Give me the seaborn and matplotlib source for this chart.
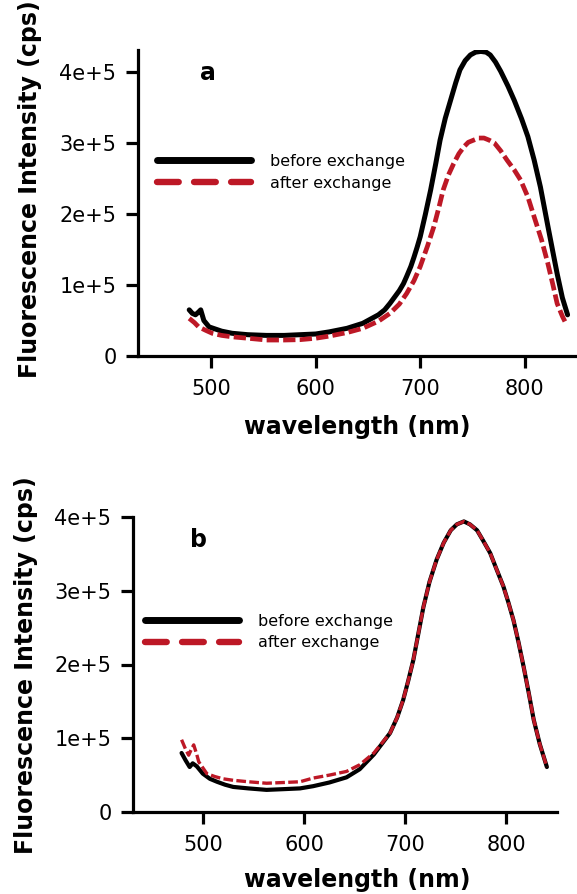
import numpy as np
import pandas as pd
import matplotlib
matplotlib.use("Agg")
import matplotlib.pyplot as plt
from matplotlib.lines import Line2D
import seaborn as sns

# Spectra (wavelength in nm, intensity in cps)
# panel a
wl_a_before = [479, 482, 485, 488, 490, 493, 498, 510, 520, 535, 553, 570, 585, 600,
               613, 630, 645, 660, 666, 671, 676, 680, 684, 687, 691, 694, 697, 700,
               705, 710, 715, 719, 724, 729, 734, 738, 743, 748, 753, 758, 763, 767,
               772, 777, 784, 790, 797, 803, 809, 815, 822, 827, 831, 836, 841]
int_a_before = [65000, 60000, 58000, 62000, 65000, 50000, 41000, 35000, 32000, 30000,
                29000, 29000, 30000, 31000, 34000, 39000, 46000, 58000, 65000, 74000,
                84000, 92000, 102000, 112000, 126000, 139000, 153000, 168000, 200000,
                234000, 272000, 304000, 335000, 360000, 385000, 403000, 416000, 424000,
                428000, 429000, 428000, 424000, 414000, 401000, 380000, 360000, 334000,
                309000, 276000, 238000, 184000, 146000, 116000, 82000, 58000]
wl_a_after = [479, 484, 488, 495, 501, 510, 520, 535, 553, 570, 585, 600, 613, 630, 645,
              660, 671, 680, 687, 694, 700, 707, 713, 718, 722, 727, 732, 737, 742, 746,
              751, 756, 761, 766, 771, 777, 783, 790, 796, 803, 809, 816, 822, 827, 831,
              836, 840]
int_a_after = [53000, 47000, 41000, 36000, 32000, 29000, 27000, 25000, 22500, 22500,
               23000, 25000, 28000, 33000, 39000, 49000, 60000, 73000, 88000, 106000,
               126000, 155000, 182000, 210000, 234000, 255000, 271000, 285000, 295000,
               301000, 304000, 307000, 307000, 304000, 300000, 289000, 276000, 262000,
               248000, 224000, 196000, 164000, 131000, 100000, 74000, 56000, 44000]

# panel b
wl_b_before = [479, 483, 487, 490, 494, 500, 507, 514, 522, 530, 545, 563, 580, 596, 609,
               625, 642, 655, 669, 685, 692, 698, 703, 708, 713, 718, 724, 731, 738, 745,
               751, 758, 764, 771, 777, 784, 790, 797, 802, 807, 812, 817, 822, 827, 833,
               840]
int_b_before = [80000, 70000, 61000, 66000, 62000, 52000, 45000, 41000, 37000, 34000,
                32000, 30000, 31000, 32000, 35000, 40000, 47000, 58000, 78000, 107000,
                128000, 152000, 178000, 206000, 242000, 278000, 312000, 342000, 365000,
                382000, 390000, 394000, 390000, 382000, 368000, 351000, 330000, 306000,
                284000, 260000, 230000, 197000, 162000, 125000, 92000, 61000]
wl_b_after = [479, 483, 486, 489, 491, 494, 496, 500, 504, 512, 520, 530, 545, 563, 580,
              596, 609, 625, 642, 655, 669, 685, 692, 698, 703, 708, 713, 718, 724, 731,
              738, 745, 751, 758, 764, 771, 777, 784, 790, 797, 802, 807, 812, 817, 822,
              827, 833, 840]
int_b_after = [98000, 85000, 77000, 86000, 91000, 78000, 68000, 60000, 52000, 48000,
               45000, 43000, 41000, 39000, 40000, 41000, 46000, 50000, 55000, 64000,
               80000, 107000, 128000, 152000, 178000, 206000, 242000, 278000, 312000,
               342000, 365000, 382000, 390000, 394000, 390000, 382000, 368000, 351000,
               330000, 306000, 284000, 260000, 230000, 197000, 162000, 125000, 92000,
               61000]

x_ticks = [500, 600, 700, 800]
y_ticks = [0, 100000, 200000, 300000, 400000]
y_tick_labels = ["0", "1e+5", "2e+5", "3e+5", "4e+5"]
series_labels = ["before exchange", "after exchange"]
RED = "#BD1826"

sns.set_theme(style="ticks")
plt.rcParams["font.family"] = ["DejaVu Sans"]
plt.rcParams["axes.linewidth"] = 2.3
plt.rcParams["text.color"] = "black"
plt.rcParams["axes.labelcolor"] = "black"
plt.rcParams["axes.edgecolor"] = "black"

fig = plt.figure(figsize=(5.77, 8.94), dpi=100)
W, H = 577, 894


def make_axes(left, right, top, bottom):
    return fig.add_axes([left / W, 1 - bottom / H, (right - left) / W, (bottom - top) / H])


ax_a = make_axes(138, 577, 50, 356)
ax_b = make_axes(133, 557, 517, 812)

panels = [
    (ax_a, wl_a_before, int_a_before, wl_a_after, int_a_after, (430, 850), 431000),
    (ax_b, wl_b_before, int_b_before, wl_b_after, int_b_after, (431, 850), 400000),
]

for i, (ax, wb, ib, wa, ia, xl, ytop) in enumerate(panels):
    df_b = pd.DataFrame({"wl": wb, "I": ib})
    df_a = pd.DataFrame({"wl": wa, "I": ia})
    if i == 0:
        lw_k, lw_r, dash = 3.6, 3.4, (2.6, 0.9)
    else:
        lw_k, lw_r, dash = 3.0, 2.4, (2.9, 1.0)
    sns.lineplot(data=df_b, x="wl", y="I", ax=ax, color="black", lw=lw_k,
                 estimator=None, sort=False)
    sns.lineplot(data=df_a, x="wl", y="I", ax=ax, color=RED, lw=lw_r,
                 estimator=None, sort=False)
    ax.lines[-1].set_dashes(dash)

    ax.set_xlim(*xl)
    ax.set_ylim(0, ytop)
    ax.set_xticks(x_ticks)
    ax.set_yticks(y_ticks)
    ax.set_yticklabels(y_tick_labels)
    sns.despine(ax=ax)
    ax.tick_params(axis="both", direction="out", length=8.5, width=2.3,
                   labelsize=15, color="black", labelcolor="black")
    ax.tick_params(axis="y", pad=7)
    ax.tick_params(axis="x", pad=8)

    ax.set_xlabel("wavelength (nm)", fontsize=17, fontweight="bold")
    ax.set_ylabel("Fluorescence Intensity (cps)", fontsize=17, fontweight="bold")

    # legend with its own (longer) dash pattern
    handles = [
        Line2D([], [], color="black", lw=5.0, solid_capstyle="round"),
        Line2D([], [], color=RED, lw=4.6, dash_capstyle="round",
               dashes=(3.4, 2.4)),
    ]
    ax.legend(handles, series_labels, loc="center left", frameon=False,
              fontsize=11.5, handlelength=5.9, handletextpad=1.2,
              labelspacing=0.42, borderpad=0, borderaxespad=0,
              bbox_to_anchor=(0.043 if i == 0 else 0.028, 0.60 if i == 0 else 0.61))

ax_a.xaxis.set_label_coords((357 - 138) / 439, (356 - 415) / 306)
ax_a.yaxis.set_label_coords((42 - 138) / 439, (356 - 189) / 306)
ax_b.xaxis.set_label_coords((357 - 133) / 424, (812 - 868) / 295)
ax_b.yaxis.set_label_coords((38 - 133) / 424, (812 - 665) / 295)

ax_a.text((208 - 138) / 439, (356 - 80) / 306, "a", transform=ax_a.transAxes,
          fontsize=17, fontweight="bold", ha="center", va="baseline")
ax_b.text((199 - 133) / 424, (812 - 547) / 295, "b", transform=ax_b.transAxes,
          fontsize=17, fontweight="bold", ha="center", va="baseline")

fig.savefig("out.png", dpi=100)
